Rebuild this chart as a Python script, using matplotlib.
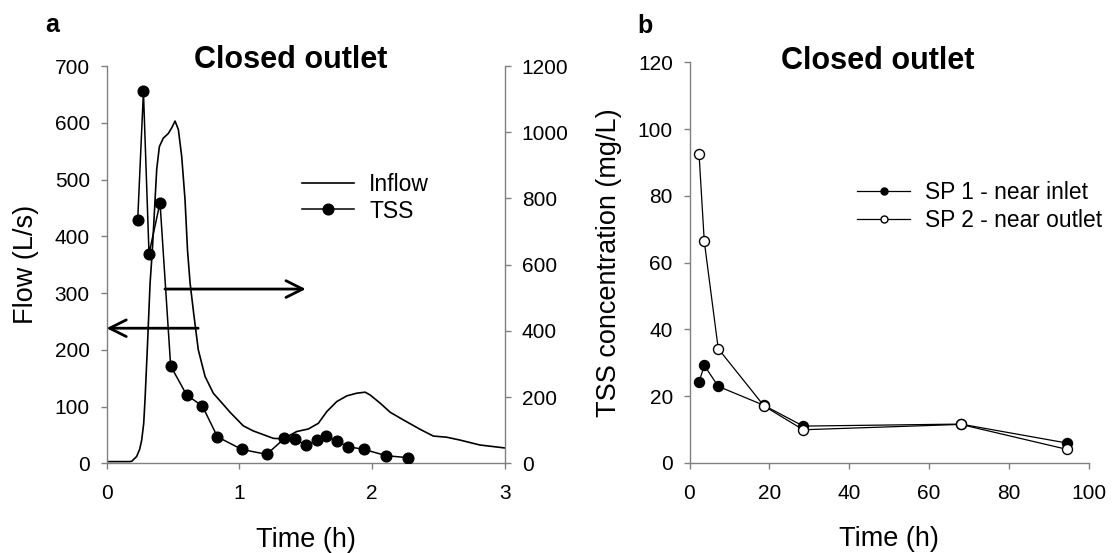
"""
Closed outlet pond: inflow/TSS during the event (a) and settling afterwards (b).
Two-panel figure, 1118x553 px.
"""
import matplotlib
matplotlib.use("Agg")
import matplotlib.pyplot as plt

plt.rcParams["font.family"] = ["Liberation Sans", "DejaVu Sans"]

# panel a -- inflow hydrograph (time h, flow L/s)
inflow_t = [0.0, 0.17, 0.19, 0.227, 0.25, 0.265, 0.28, 0.29, 0.307, 0.328, 0.345,
            0.36, 0.378, 0.398, 0.428, 0.465, 0.491, 0.516, 0.541, 0.566, 0.591,
            0.61, 0.629, 0.659, 0.691, 0.742, 0.804, 0.855, 0.93, 1.03, 1.105,
            1.256, 1.33, 1.432, 1.52, 1.595, 1.658, 1.733, 1.809, 1.884, 1.947,
            1.984, 2.06, 2.135, 2.235, 2.36, 2.46, 2.56, 2.66, 2.81, 3.0]
inflow_q = [3, 3, 3.5, 12, 25, 41, 70, 112, 200, 317, 375,
            440, 518, 558, 573, 581, 591, 603, 588, 541, 465,
            375, 318, 259, 200, 153, 123.5, 110, 90, 66, 57,
            44, 43, 56, 60.5, 70.5, 91, 108.7, 118.8, 123.5, 125.3,
            120.5, 106, 90, 76.4, 60, 48, 46, 41, 32.3, 27]

# panel a -- TSS samples at the inlet (time h, mg/L)
tss_t = [0.235, 0.278, 0.320, 0.403, 0.483, 0.604, 0.722, 0.835, 1.018, 1.206,
         1.339, 1.422, 1.502, 1.588, 1.653, 1.736, 1.821, 1.939, 2.105, 2.27]
tss_c = [736, 1123, 633, 787, 294, 206, 173, 80, 42, 27,
         75, 72, 55, 69, 82, 66, 50, 42, 23, 17]

# panel b -- sampling points in the pond (time h, mg/L)
sp_t = [2.4, 3.7, 7.2, 18.7, 28.5, 68.0, 94.7]
sp1_c = [24.2, 29.2, 22.9, 17.2, 11.0, 11.6, 5.9]
sp2_c = [92.4, 66.4, 34.2, 17.0, 9.9, 11.5, 4.0]

# arrows pointing each curve to its axis: (x_start, x_end, flow level)
arrow_right = (0.44, 1.5, 307)
arrow_left = (0.69, 0.0, 238)

GREY = "#808080"
W, H = 1118, 553


def _axes_rect(left, top, right, bottom):
    # pixel box -> figure fraction
    return [left / W, 1 - bottom / H, (right - left) / W, (bottom - top) / H]


def _style(ax, sides=("left", "bottom")):
    for s, sp in ax.spines.items():
        sp.set_visible(s in sides)
        sp.set_color(GREY)
        sp.set_linewidth(1.0)
    ax.tick_params(direction="out", length=4, width=1, color=GREY,
                   labelsize=15, labelcolor="black")
    ax.tick_params(axis="x", pad=11)
    ax.tick_params(axis="y", pad=8)


fig = plt.figure(figsize=(W / 100, H / 100), dpi=100)

# ---- panel a
ax = fig.add_axes(_axes_rect(106.5, 66, 505, 463.3))
ax2 = ax.twinx()
ax.set_zorder(1); ax2.set_zorder(2)
_style(ax)
_style(ax2, sides=("right",))

l_in, = ax.plot(inflow_t, inflow_q, color="black", lw=1.2, label="Inflow")
l_tss, = ax2.plot(tss_t, tss_c, "o-", color="black", lw=1.1, ms=7.7,
                  label="TSS")
for x0, x1, q in (arrow_right, arrow_left):
    ax.annotate("", xy=(x1, q), xytext=(x0, q), annotation_clip=False,
                arrowprops=dict(arrowstyle="->,head_length=0.6,head_width=0.3",
                                lw=2, color="black", shrinkA=0, shrinkB=0,
                                mutation_scale=20))

ax.set_xlim(0, 3); ax.set_xticks(range(4))
ax.set_ylim(0, 700); ax.set_yticks(range(0, 701, 100))
ax2.set_ylim(0, 1200); ax2.set_yticks(range(0, 1201, 200))
ax.set_xlabel("Time (h)", fontsize=19.5, labelpad=17)
ax.set_ylabel("Flow (L/s)", fontsize=19.5, labelpad=11)
ax2.legend([l_in, l_tss], ["Inflow", "TSS"], loc="center left",
           bbox_to_anchor=(0.4898, 0.6683), frameon=False, fontsize=16.5,
           borderpad=0, borderaxespad=0, handlelength=2.3, handletextpad=0.65,
           labelspacing=0.15)

# ---- panel b
bx = fig.add_axes(_axes_rect(689.5, 62.3, 1088.5, 462.8))
_style(bx)
bx.plot(sp_t, sp1_c, "o-", color="black", lw=0.9, ms=7.2,
        label="SP 1 - near inlet")
bx.plot(sp_t, sp2_c, "o-", color="black", lw=0.9, ms=7.2, mfc="white",
        mec="black", mew=1.0, label="SP 2 - near outlet")
bx.set_xlim(0, 100); bx.set_xticks(range(0, 101, 20))
bx.set_ylim(0, 120); bx.set_yticks(range(0, 121, 20))
bx.set_xlabel("Time (h)", fontsize=19.5, labelpad=17)
bx.set_ylabel("TSS concentration (mg/L)", fontsize=19.5, labelpad=11)
bx.legend(loc="center left", bbox_to_anchor=(0.4206, 0.639), frameon=False,
          fontsize=16.4, borderpad=0, borderaxespad=0, handlelength=2.3,
          handletextpad=0.65, labelspacing=0.22, markerscale=0.7)

# panel letters and titles
fig.text(45 / W, 1 - 31.7 / H, "a", fontsize=18, weight="bold", va="baseline")
fig.text(637 / W, 1 - 33 / H, "b", fontsize=18, weight="bold", va="baseline")
fig.text(291 / W, 1 - 68 / H, "Closed outlet", fontsize=22, weight="bold",
         ha="center", va="baseline")
fig.text(878 / W, 1 - 69 / H, "Closed outlet", fontsize=22, weight="bold",
         ha="center", va="baseline")

fig.savefig("out.png", dpi=100)
